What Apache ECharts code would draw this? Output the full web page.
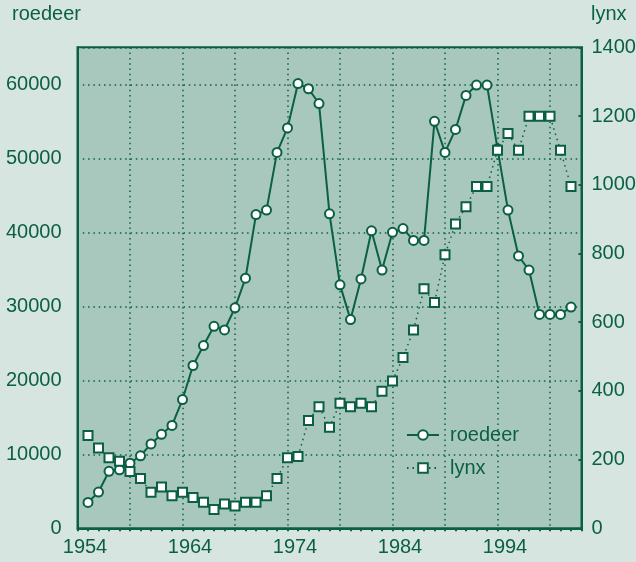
<!DOCTYPE html>
<html><head><meta charset="utf-8">
<script src="https://cdn.jsdelivr.net/npm/echarts@6/dist/echarts.min.js"></script>
<style>html,body{margin:0;padding:0;background:#d6e5df}#c{width:636px;height:562px}</style>
</head><body><div id="c"></div>
<script>
const years = [1954,1955,1956,1957,1958,1959,1960,1961,1962,1963,1964,1965,1966,1967,1968,1969,1970,1971,1972,1973,1974,1975,1976,1977,1978,1979,1980,1981,1982,1983,1984,1985,1986,1987,1988,1989,1990,1991,1992,1993,1994,1995,1996,1997,1998,1999,2000];
const roedeer = [3500,4900,7700,7900,8800,9800,11400,12700,13900,17400,22000,24700,27300,26800,29800,33800,42400,43000,50800,54100,60100,59400,57400,42500,32900,28200,33700,40200,34900,40000,40500,38900,38900,55000,50800,53900,58500,59900,59900,51300,43000,36800,34900,28900,28900,28900,29900];
const lynx = [270,234,205,195,165,145,105,120,95,105,90,76,55,71,65,76,76,95,145,205,209,314,354,294,364,354,364,354,399,429,497,577,697,657,796,886,936,995,995,1100,1149,1100,1199,1199,1199,1100,995];
const axisYears = ['1953'].concat(years.map(String), ['2001']);
const xTickLabels = ['1954','1964','1974','1984','1994'];
const xGridYears = ['1958','1963','1968','1973','1978','1983','1988','1993','1998'];

const DARK = '#0a5f45';
const PLOT = '#a8c8bd';
const BG = '#d6e5df';
const FONT = "'Liberation Sans',Arial,sans-serif";
const FS = 20;

const chart = echarts.init(document.getElementById('c'), null, {renderer: 'canvas'});
const dotted = {color: DARK, width: 1.5, type: [1.5, 3.8]};
const plain = v => String(v);

chart.setOption({
  backgroundColor: BG,
  animation: false,
  textStyle: {fontFamily: FONT},
  grid: {left: 77.5, right: 54.5, top: 47.3, bottom: 33.7, show: true, backgroundColor: PLOT, borderColor: DARK, borderWidth: 2, containLabel: false, outerBoundsMode: 'none'},
  graphic: [
    {type: 'text', x: 12, y: 14.5, style: {text: 'roedeer', fill: DARK, font: FS + 'px ' + FONT, verticalAlign: 'middle'}},
    {type: 'text', x: 591, y: 14.5, style: {text: 'lynx', fill: DARK, font: FS + 'px ' + FONT, verticalAlign: 'middle'}}
  ],
  legend: {
    orient: 'vertical', left: 401, top: 420, itemWidth: 32, itemHeight: 12, itemGap: 13,
    textStyle: {color: DARK, fontSize: FS, fontFamily: FONT, padding: [0, 0, 0, 6]},
    data: ['roedeer', 'lynx']
  },
  xAxis: [
    {
      type: 'category', data: axisYears, boundaryGap: false, position: 'bottom',
      axisLine: {show: true, lineStyle: {color: DARK, width: 2}},
      axisTick: {show: false},
      axisLabel: {interval: (i, v) => xTickLabels.includes(v), color: DARK, fontSize: FS, fontFamily: FONT, margin: 9, padding: [0, 6, 0, 0]},
      splitLine: {show: true, interval: (i, v) => xGridYears.includes(v), lineStyle: dotted}
    },
    {
      type: 'category', data: axisYears, boundaryGap: false, position: 'top',
      axisLine: {show: false},
      axisTick: {show: true, inside: true, length: 3, interval: 0, lineStyle: {color: DARK, width: 2}},
      axisLabel: {show: false}, splitLine: {show: false}
    }
  ],
  yAxis: [
    {
      type: 'value', min: 0, max: 65000, interval: 10000, position: 'left',
      axisLine: {show: true, lineStyle: {color: DARK, width: 2}},
      axisTick: {show: false},
      axisLabel: {color: DARK, fontSize: FS, fontFamily: FONT, margin: 16, showMaxLabel: false, formatter: plain},
      splitLine: {show: true, lineStyle: dotted}
    },
    {
      type: 'value', min: 0, max: 1400, interval: 200, position: 'right',
      axisLine: {show: true, lineStyle: {color: DARK, width: 2}},
      axisTick: {show: true, inside: true, length: 3, lineStyle: {color: DARK, width: 2}},
      axisLabel: {color: DARK, fontSize: FS, fontFamily: FONT, margin: 10, formatter: plain},
      splitLine: {show: false}
    }
  ],
  series: [
    {
      name: 'roedeer', type: 'line', xAxisIndex: 0, yAxisIndex: 0,
      data: years.map((y, i) => [String(y), roedeer[i]]),
      symbol: 'circle', symbolSize: 9, showAllSymbol: true,
      lineStyle: {color: DARK, width: 2},
      itemStyle: {color: '#ffffff', borderColor: DARK, borderWidth: 2}
    },
    {
      name: 'lynx', type: 'line', xAxisIndex: 0, yAxisIndex: 1,
      data: years.map((y, i) => [String(y), lynx[i]]),
      symbol: 'rect', symbolSize: 9, showAllSymbol: true,
      lineStyle: {color: DARK, width: 1.5, type: [1.5, 4]},
      itemStyle: {color: '#ffffff', borderColor: DARK, borderWidth: 2}
    }
  ]
});
</script></body></html>
